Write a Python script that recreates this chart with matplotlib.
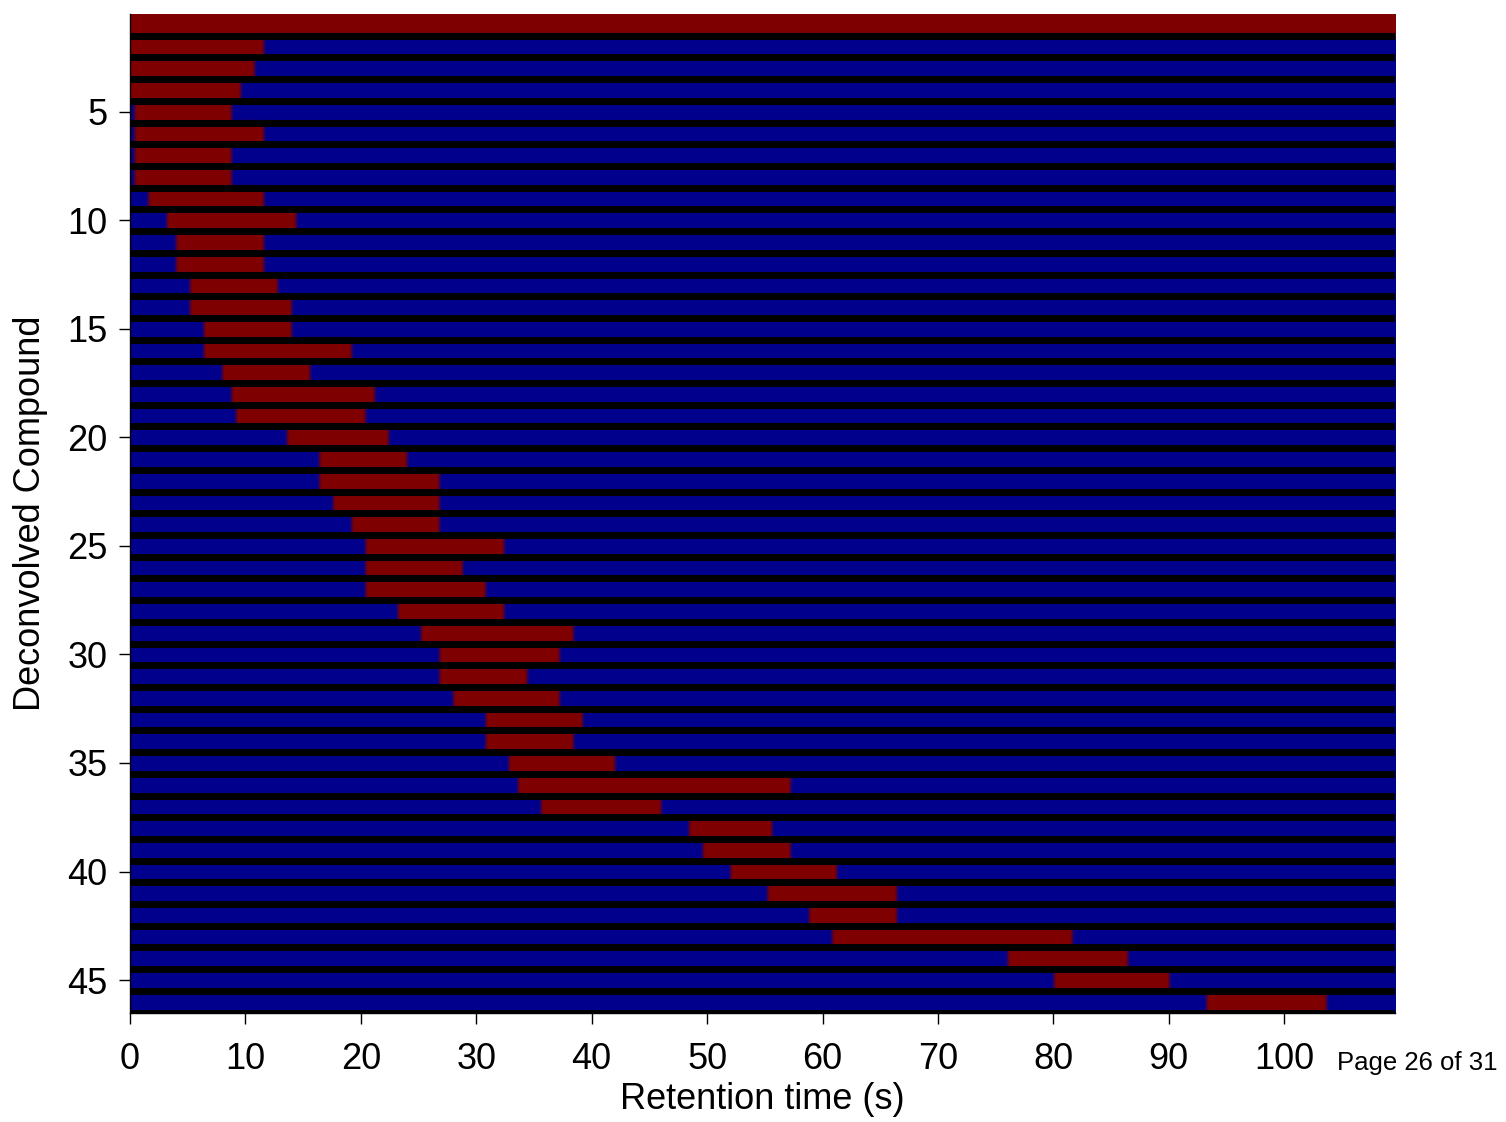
import numpy as np
import matplotlib.pyplot as plt
from matplotlib.colors import LinearSegmentedColormap

plt.rcParams['font.family'] = ['Liberation Sans', 'DejaVu Sans']

# elution window (s) of each deconvolved compound
compounds = list(range(1, 47))
starts = [0.0, 0.0, 0.0, 0.0, 0.3, 0.3, 0.3, 0.3, 1.7, 3.2,
          3.9, 3.9, 5.2, 5.2, 6.5, 6.5, 8.0, 8.8, 9.4, 13.6,
          16.3, 16.3, 17.8, 19.2, 20.5, 20.5, 20.5, 23.4, 25.4, 26.7,
          26.7, 28.2, 30.9, 30.9, 32.9, 33.8, 35.8, 48.4, 49.7, 51.9,
          55.2, 58.7, 60.8, 76.2, 80.2, 93.4]
ends = [110.0, 11.5, 10.8, 9.4, 8.7, 11.5, 8.7, 8.7, 11.5, 14.3,
        11.4, 11.4, 12.7, 14.1, 14.1, 19.1, 15.6, 21.1, 20.5, 22.5,
        24.0, 26.7, 26.7, 26.7, 32.2, 28.9, 30.8, 32.2, 38.4, 37.1,
        34.2, 37.1, 39.2, 38.6, 41.9, 57.2, 46.1, 55.8, 57.1, 61.4,
        66.3, 66.3, 81.5, 86.4, 89.9, 103.8]

t_max = 109.6
dt = 0.4
sub = 3  # image rows per compound

t = np.arange(0, t_max, dt) + dt / 2
rows = []
for s, e in zip(starts, ends):
    r = ((t >= s) & (t <= e)).astype(float)
    for i in range(sub):
        rows.append(r)
img = np.array(rows)

cmap = LinearSegmentedColormap.from_list('bluered', [(0, 0, 0.55), (0.5, 0, 0)])

fig = plt.figure(figsize=(15.06, 11.22), dpi=100)
ax = fig.add_axes([0.0863, 0.0975, 0.84, 0.89])

n = len(compounds)
ax.imshow(img, cmap=cmap, vmin=0, vmax=1, aspect='auto', interpolation='bilinear',
          extent=[0, t_max, n + 0.5, 0.5])
ax.hlines(np.array(compounds) + 0.5, 0, t_max, color='k', lw=5.0)

ax.set_xlim(0, t_max)
ax.set_ylim(n + 0.5, 0.5)
ax.set_xticks(np.arange(0, 101, 10))
ax.set_yticks(np.arange(5, 46, 5))

for sp in ['top', 'right']:
    ax.spines[sp].set_visible(False)
ax.spines['left'].set_linewidth(1.0)
ax.spines['bottom'].set_linewidth(1.0)

ax.tick_params(axis='both', direction='out', length=8, width=1, labelsize=26)
ax.tick_params(axis='x', pad=13)
ax.tick_params(axis='y', pad=8)

ax.set_xlabel('Retention time (s)', fontsize=26, labelpad=4)
ax.set_ylabel('Deconvolved Compound', fontsize=26, labelpad=14)

fig.text(1337 / 1506, 1 - 1070 / 1122, 'Page 26 of 31', fontsize=18.5, va='baseline')

fig.savefig('out.png', dpi=100)
